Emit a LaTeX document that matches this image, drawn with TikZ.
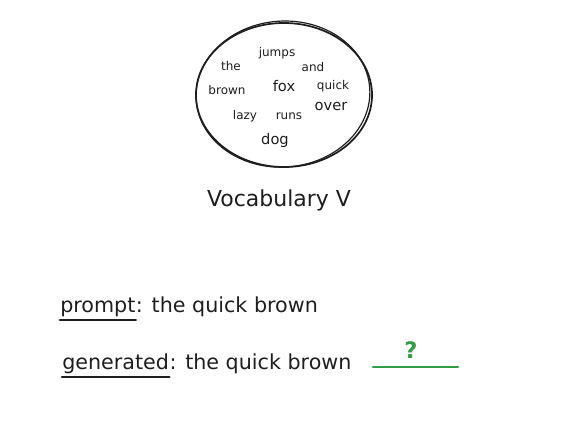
\documentclass[tikz,border=0pt]{standalone}
\usepackage{fontspec}
\setmainfont{DejaVu Sans}
\usetikzlibrary{positioning}
\definecolor{ink}{HTML}{1E1E1E}
\definecolor{cgreen}{HTML}{2F9E44}
\tikzset{px/.style={x=0.75pt,y=-0.75pt},
  word/.style={text=ink,inner sep=0pt,font=\fontsize{9}{10}\selectfont},
  bigword/.style={word,font=\fontsize{11}{12}\selectfont},
  line/.style={text=ink,inner sep=0pt,font=\fontsize{15.5}{17}\selectfont},
  underl/.style={ink,line width=2.2pt,line cap=round}}

\begin{document}
\begin{tikzpicture}[px]
    \useasboundingbox (0,0) rectangle (566,430);
    % sketchy vocabulary circle
    \draw[ink,line width=1.3pt] (284,95) ellipse [x radius=88,y radius=72];
    \draw[ink,line width=0.9pt,rotate around={4:(284,95)}] (283,94) ellipse [x radius=87,y radius=73];
    \node[word] (the) at (231,66) {the};
    \node[word] (jumps) at (277,53) {jumps};
    \node[word] (and) at (313,67) {and};
    \node[word] (brown) at (227,90) {brown};
    \node[bigword] (fox) at (284,86) {fox};
    \node[word] (quick) at (333,86) {quick};
    \node[bigword] (over) at (331,106) {over};
    \node[word] (lazy) at (245,116) {lazy};
    \node[word] (runs) at (289,116) {runs};
    \node[bigword] (dog) at (275,140) {dog};
    \node[line,font=\fontsize{16.5}{18}\selectfont] (vocab) at (279,200) {Vocabulary V};
    % prompt and generated lines
    \node[line,anchor=base west] (prompt) at (60,312) {prompt};
    \node[line,anchor=base west] (ptext) at (prompt.base east) {: the quick brown};
    \draw[underl] ([yshift=-6pt]prompt.base west) -- ([yshift=-6pt]prompt.base east);
    \node[line,anchor=base west] (gen) at (62,369) {generated};
    \node[line,anchor=base west] (gtext) at (gen.base east) {: the quick brown};
    \draw[underl] ([yshift=-6pt]gen.base west) -- ([yshift=-6pt]gen.base east);
    \coordinate (blankA) at (373,367);
    \coordinate (blankB) at (458,367);
    \draw[cgreen,line width=2.2pt,line cap=round] (blankA) -- (blankB);
    \node[line,text=cgreen,font=\bfseries\fontsize{17}{19}\selectfont] (qmark) at (411,350) {?};
\end{tikzpicture}
\end{document}
